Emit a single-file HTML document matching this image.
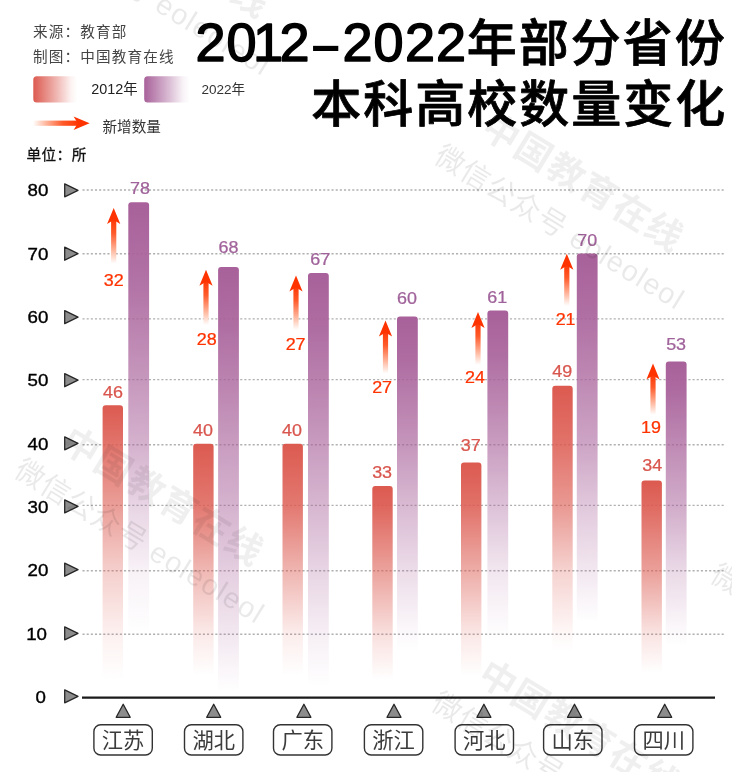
<!DOCTYPE html>
<html lang="zh-CN"><head><meta charset="utf-8"><title>2012-2022年部分省份本科高校数量变化</title>
<style>html,body{margin:0;padding:0;background:#fff}body{width:750px;height:772px;overflow:hidden}svg{display:block}text{font-family:'Liberation Sans','Noto Sans CJK SC',sans-serif}</style>
</head><body>
<svg width="750" height="772" viewBox="0 0 750 772">
<defs>
<linearGradient id="lr" x1="0" y1="0" x2="1" y2="0"><stop offset="0" stop-color="#dc5a50"/><stop offset="0.55" stop-color="#dc5a50" stop-opacity="0.42"/><stop offset="0.85" stop-color="#dc5a50" stop-opacity="0.08"/><stop offset="1" stop-color="#dc5a50" stop-opacity="0"/></linearGradient>
<linearGradient id="lp" x1="0" y1="0" x2="1" y2="0"><stop offset="0" stop-color="#a8619a"/><stop offset="0.55" stop-color="#a8619a" stop-opacity="0.42"/><stop offset="0.85" stop-color="#a8619a" stop-opacity="0.08"/><stop offset="1" stop-color="#a8619a" stop-opacity="0"/></linearGradient>
<linearGradient id="ga" x1="0" y1="0" x2="0" y2="1"><stop offset="0" stop-color="#ff3300"/><stop offset="0.35" stop-color="#ff5a2a"/><stop offset="0.75" stop-color="#ffbfa8"/><stop offset="1" stop-color="#ffffff"/></linearGradient>
<linearGradient id="gh" x1="1" y1="0" x2="0" y2="0"><stop offset="0" stop-color="#ff3300"/><stop offset="0.35" stop-color="#ff5a2a"/><stop offset="0.75" stop-color="#ffbfa8"/><stop offset="1" stop-color="#ffffff"/></linearGradient>
<clipPath id="wc"><rect x="0" y="0" width="732" height="772"/></clipPath>
</defs>
<rect width="750" height="772" fill="#fff"/>
<g fill="#444" font-size="14.6" letter-spacing="1.15">
<text x="33" y="36.5">来源：教育部</text>
<text x="33" y="62">制图：中国教育在线</text>
</g>
<rect x="33.3" y="76.2" width="44" height="26.2" rx="3.5" fill="url(#lr)"/>
<text x="91.2" y="94.2" font-size="14.4" fill="#222">2012年</text>
<rect x="144.2" y="76.2" width="45.5" height="26.2" rx="3.5" fill="url(#lp)"/>
<text x="201.5" y="93.6" font-size="13.5" fill="#333">2022年</text>
<rect x="33" y="120.6" width="46" height="5.2" fill="url(#gh)"/>
<path d="M89.6 123.2 L73.6 116.5 L77.8 123.2 L73.6 129.9 Z" fill="#ff3300"/>
<text x="102.5" y="131.5" font-size="14.6" fill="#333">新增数量</text>
<text x="26.5" y="160" font-size="14.6" letter-spacing="0.45" fill="#111" stroke="#111" stroke-width="0.3">单位：所</text>
<g fill="#000" font-weight="700">
<g font-size="54" font-weight="400" stroke="#000" stroke-width="1.5" stroke-linejoin="round">
<text y="61.3" x="195.5 226.5 253 279.5">2012</text>
<text y="61.3" x="342.5 373.5 405 436">2022</text>
</g>
<text x="311.5" y="61.8" font-size="51">–</text>
<text x="466.8" y="60.5" font-size="50" letter-spacing="2" font-weight="500" stroke="#000" stroke-width="0.8" stroke-linejoin="round">年部分省份</text>
<text x="311.3" y="122.3" font-size="50" letter-spacing="2" font-weight="500" stroke="#000" stroke-width="0.8" stroke-linejoin="round">本科高校数量变化</text>
</g>
<g font-size="16" fill="#000" stroke="#000" stroke-width="0.35" text-anchor="end">
<text transform="translate(45.8 702.6) scale(1.17 1)">0</text>
<text transform="translate(47.0 639.5) scale(1.17 1)">10</text>
<text transform="translate(48.4 576.0) scale(1.17 1)">20</text>
<text transform="translate(48.4 512.7) scale(1.17 1)">30</text>
<text transform="translate(48.4 449.5) scale(1.17 1)">40</text>
<text transform="translate(48.4 385.8) scale(1.17 1)">50</text>
<text transform="translate(48.4 322.8) scale(1.17 1)">60</text>
<text transform="translate(48.4 259.5) scale(1.17 1)">70</text>
<text transform="translate(48.4 196.1) scale(1.17 1)">80</text>
</g>
<g fill="#8c8c8c" stroke="#262626" stroke-width="1.3" stroke-linejoin="round">
<path d="M64.7 689.8 L78 696.3 L64.7 702.8 Z"/>
<path d="M64.7 626.8 L78 633.3 L64.7 639.8 Z"/>
<path d="M64.7 563.2 L78 569.7 L64.7 576.2 Z"/>
<path d="M64.7 499.9 L78 506.4 L64.7 512.9 Z"/>
<path d="M64.7 436.8 L78 443.3 L64.7 449.8 Z"/>
<path d="M64.7 373.7 L78 380.2 L64.7 386.7 Z"/>
<path d="M64.7 310.6 L78 317.1 L64.7 323.6 Z"/>
<path d="M64.7 247.2 L78 253.7 L64.7 260.2 Z"/>
<path d="M64.7 183.8 L78 190.3 L64.7 196.8 Z"/>
</g>
<g stroke="#b0b0b0" stroke-width="1.4" stroke-dasharray="2.1 2.05" fill="none">
<line x1="82.5" y1="634.3" x2="725.5" y2="634.3"/>
<line x1="82.5" y1="570.7" x2="725.5" y2="570.7"/>
<line x1="82.5" y1="505.4" x2="725.5" y2="505.4"/>
<line x1="82.5" y1="444.7" x2="725.5" y2="444.7"/>
<line x1="82.5" y1="379.6" x2="725.5" y2="379.6"/>
<line x1="82.5" y1="318.9" x2="725.5" y2="318.9"/>
<line x1="82.5" y1="253.7" x2="725.5" y2="253.7"/>
<line x1="82.5" y1="190.0" x2="725.5" y2="190.0"/>
</g>
<linearGradient id="br0" gradientUnits="userSpaceOnUse" x1="0" y1="405.3" x2="0" y2="697.0"><stop offset="0.0000" stop-color="#dc5a50" stop-opacity="1.000"/><stop offset="0.3432" stop-color="#dc5a50" stop-opacity="0.590"/><stop offset="0.5670" stop-color="#dc5a50" stop-opacity="0.290"/><stop offset="0.7851" stop-color="#dc5a50" stop-opacity="0.085"/><stop offset="0.9417" stop-color="#dc5a50" stop-opacity="0.000"/></linearGradient>
<linearGradient id="bp0" gradientUnits="userSpaceOnUse" x1="0" y1="202.3" x2="0" y2="697.0"><stop offset="0.0000" stop-color="#a8619a" stop-opacity="1.000"/><stop offset="0.1633" stop-color="#a8619a" stop-opacity="0.888"/><stop offset="0.3267" stop-color="#a8619a" stop-opacity="0.694"/><stop offset="0.4900" stop-color="#a8619a" stop-opacity="0.490"/><stop offset="0.6127" stop-color="#a8619a" stop-opacity="0.270"/><stop offset="0.7447" stop-color="#a8619a" stop-opacity="0.085"/><stop offset="0.8733" stop-color="#a8619a" stop-opacity="0.000"/></linearGradient>
<rect x="102.6" y="405.3" width="20.4" height="291.7" rx="3" fill="url(#br0)"/>
<rect x="128.3" y="202.3" width="20.8" height="494.7" rx="3" fill="url(#bp0)"/>
<linearGradient id="br1" gradientUnits="userSpaceOnUse" x1="0" y1="443.8" x2="0" y2="697.0"><stop offset="0.0000" stop-color="#dc5a50" stop-opacity="1.000"/><stop offset="0.2433" stop-color="#dc5a50" stop-opacity="0.816"/><stop offset="0.5012" stop-color="#dc5a50" stop-opacity="0.430"/><stop offset="0.7524" stop-color="#dc5a50" stop-opacity="0.125"/><stop offset="0.9171" stop-color="#dc5a50" stop-opacity="0.000"/></linearGradient>
<linearGradient id="bp1" gradientUnits="userSpaceOnUse" x1="0" y1="266.9" x2="0" y2="697.0"><stop offset="0.0000" stop-color="#a8619a" stop-opacity="1.000"/><stop offset="0.1378" stop-color="#a8619a" stop-opacity="0.917"/><stop offset="0.2756" stop-color="#a8619a" stop-opacity="0.774"/><stop offset="0.4134" stop-color="#a8619a" stop-opacity="0.624"/><stop offset="0.5545" stop-color="#a8619a" stop-opacity="0.484"/><stop offset="0.7063" stop-color="#a8619a" stop-opacity="0.310"/><stop offset="0.8542" stop-color="#a8619a" stop-opacity="0.150"/><stop offset="0.9884" stop-color="#a8619a" stop-opacity="0.000"/></linearGradient>
<rect x="193.2" y="443.8" width="20.4" height="253.2" rx="3" fill="url(#br1)"/>
<rect x="218.1" y="266.9" width="20.8" height="430.1" rx="3" fill="url(#bp1)"/>
<linearGradient id="br2" gradientUnits="userSpaceOnUse" x1="0" y1="443.8" x2="0" y2="697.0"><stop offset="0.0000" stop-color="#dc5a50" stop-opacity="1.000"/><stop offset="0.2433" stop-color="#dc5a50" stop-opacity="0.816"/><stop offset="0.5012" stop-color="#dc5a50" stop-opacity="0.450"/><stop offset="0.7524" stop-color="#dc5a50" stop-opacity="0.107"/><stop offset="0.9171" stop-color="#dc5a50" stop-opacity="0.000"/></linearGradient>
<linearGradient id="bp2" gradientUnits="userSpaceOnUse" x1="0" y1="273.0" x2="0" y2="697.0"><stop offset="0.0000" stop-color="#a8619a" stop-opacity="1.000"/><stop offset="0.1350" stop-color="#a8619a" stop-opacity="0.919"/><stop offset="0.2700" stop-color="#a8619a" stop-opacity="0.779"/><stop offset="0.4050" stop-color="#a8619a" stop-opacity="0.631"/><stop offset="0.5481" stop-color="#a8619a" stop-opacity="0.460"/><stop offset="0.7021" stop-color="#a8619a" stop-opacity="0.270"/><stop offset="0.8521" stop-color="#a8619a" stop-opacity="0.100"/><stop offset="0.9741" stop-color="#a8619a" stop-opacity="0.000"/></linearGradient>
<rect x="282.5" y="443.8" width="20.4" height="253.2" rx="3" fill="url(#br2)"/>
<rect x="308.0" y="273.0" width="20.8" height="424.0" rx="3" fill="url(#bp2)"/>
<linearGradient id="br3" gradientUnits="userSpaceOnUse" x1="0" y1="485.9" x2="0" y2="697.0"><stop offset="0.0000" stop-color="#dc5a50" stop-opacity="1.000"/><stop offset="0.0924" stop-color="#dc5a50" stop-opacity="0.930"/><stop offset="0.4017" stop-color="#dc5a50" stop-opacity="0.565"/><stop offset="0.7030" stop-color="#dc5a50" stop-opacity="0.190"/><stop offset="0.9195" stop-color="#dc5a50" stop-opacity="0.000"/></linearGradient>
<linearGradient id="bp3" gradientUnits="userSpaceOnUse" x1="0" y1="316.6" x2="0" y2="697.0"><stop offset="0.0000" stop-color="#a8619a" stop-opacity="1.000"/><stop offset="0.1123" stop-color="#a8619a" stop-opacity="0.927"/><stop offset="0.2245" stop-color="#a8619a" stop-opacity="0.800"/><stop offset="0.3368" stop-color="#a8619a" stop-opacity="0.666"/><stop offset="0.4963" stop-color="#a8619a" stop-opacity="0.440"/><stop offset="0.6680" stop-color="#a8619a" stop-opacity="0.220"/><stop offset="0.8352" stop-color="#a8619a" stop-opacity="0.035"/><stop offset="0.8817" stop-color="#a8619a" stop-opacity="0.000"/></linearGradient>
<rect x="372.3" y="485.9" width="20.4" height="211.1" rx="3" fill="url(#br3)"/>
<rect x="397.0" y="316.6" width="20.8" height="380.4" rx="3" fill="url(#bp3)"/>
<linearGradient id="br4" gradientUnits="userSpaceOnUse" x1="0" y1="462.6" x2="0" y2="697.0"><stop offset="0.0000" stop-color="#dc5a50" stop-opacity="1.000"/><stop offset="0.1826" stop-color="#dc5a50" stop-opacity="0.860"/><stop offset="0.4612" stop-color="#dc5a50" stop-opacity="0.500"/><stop offset="0.7325" stop-color="#dc5a50" stop-opacity="0.140"/><stop offset="0.9104" stop-color="#dc5a50" stop-opacity="0.000"/></linearGradient>
<linearGradient id="bp4" gradientUnits="userSpaceOnUse" x1="0" y1="310.6" x2="0" y2="697.0"><stop offset="0.0000" stop-color="#a8619a" stop-opacity="1.000"/><stop offset="0.1157" stop-color="#a8619a" stop-opacity="0.916"/><stop offset="0.2314" stop-color="#a8619a" stop-opacity="0.772"/><stop offset="0.3470" stop-color="#a8619a" stop-opacity="0.620"/><stop offset="0.5041" stop-color="#a8619a" stop-opacity="0.390"/><stop offset="0.6731" stop-color="#a8619a" stop-opacity="0.155"/><stop offset="0.8377" stop-color="#a8619a" stop-opacity="0.010"/><stop offset="0.8577" stop-color="#a8619a" stop-opacity="0.000"/></linearGradient>
<rect x="461.0" y="462.6" width="20.4" height="234.4" rx="3" fill="url(#br4)"/>
<rect x="487.4" y="310.6" width="20.8" height="386.4" rx="3" fill="url(#bp4)"/>
<linearGradient id="br5" gradientUnits="userSpaceOnUse" x1="0" y1="385.8" x2="0" y2="697.0"><stop offset="-0.0010" stop-color="#dc5a50" stop-opacity="1.000"/><stop offset="0.1893" stop-color="#dc5a50" stop-opacity="0.850"/><stop offset="0.3843" stop-color="#dc5a50" stop-opacity="0.620"/><stop offset="0.5942" stop-color="#dc5a50" stop-opacity="0.270"/><stop offset="0.7985" stop-color="#dc5a50" stop-opacity="0.040"/><stop offset="0.8554" stop-color="#dc5a50" stop-opacity="0.000"/></linearGradient>
<linearGradient id="bp5" gradientUnits="userSpaceOnUse" x1="0" y1="253.5" x2="0" y2="697.0"><stop offset="0.0000" stop-color="#a8619a" stop-opacity="1.000"/><stop offset="0.1437" stop-color="#a8619a" stop-opacity="0.905"/><stop offset="0.2874" stop-color="#a8619a" stop-opacity="0.742"/><stop offset="0.4311" stop-color="#a8619a" stop-opacity="0.570"/><stop offset="0.5680" stop-color="#a8619a" stop-opacity="0.350"/><stop offset="0.7152" stop-color="#a8619a" stop-opacity="0.150"/><stop offset="0.8309" stop-color="#a8619a" stop-opacity="0.000"/></linearGradient>
<rect x="552.3" y="385.8" width="20.4" height="311.2" rx="3" fill="url(#br5)"/>
<rect x="576.8" y="253.5" width="20.8" height="443.5" rx="3" fill="url(#bp5)"/>
<linearGradient id="br6" gradientUnits="userSpaceOnUse" x1="0" y1="480.4" x2="0" y2="697.0"><stop offset="0.0000" stop-color="#dc5a50" stop-opacity="1.000"/><stop offset="0.1154" stop-color="#dc5a50" stop-opacity="0.904"/><stop offset="0.4169" stop-color="#dc5a50" stop-opacity="0.580"/><stop offset="0.7105" stop-color="#dc5a50" stop-opacity="0.163"/><stop offset="0.8892" stop-color="#dc5a50" stop-opacity="0.000"/></linearGradient>
<linearGradient id="bp6" gradientUnits="userSpaceOnUse" x1="0" y1="361.5" x2="0" y2="697.0"><stop offset="0.0000" stop-color="#a8619a" stop-opacity="1.000"/><stop offset="0.0827" stop-color="#a8619a" stop-opacity="0.942"/><stop offset="0.1653" stop-color="#a8619a" stop-opacity="0.842"/><stop offset="0.2480" stop-color="#a8619a" stop-opacity="0.736"/><stop offset="0.4289" stop-color="#a8619a" stop-opacity="0.525"/><stop offset="0.6235" stop-color="#a8619a" stop-opacity="0.240"/><stop offset="0.8131" stop-color="#a8619a" stop-opacity="0.027"/><stop offset="0.8480" stop-color="#a8619a" stop-opacity="0.000"/></linearGradient>
<rect x="641.5" y="480.4" width="20.4" height="216.6" rx="3" fill="url(#br6)"/>
<rect x="665.8" y="361.5" width="20.8" height="335.5" rx="3" fill="url(#bp6)"/>
<line x1="82" y1="697.6" x2="715" y2="697.6" stroke="#1a1a1a" stroke-width="2.2"/>
<g font-size="16" text-anchor="middle" stroke-width="0.25">
<text transform="translate(113.0 397.8) scale(1.12 1)" fill="#d9564e" stroke="#d9564e">46</text>
<text transform="translate(139.9 194.4) scale(1.12 1)" fill="#a0629a" stroke="#a0629a">78</text>
<text transform="translate(113.7 285.6) scale(1.12 1)" fill="#ff3300" stroke="#ff3300">32</text>
<text transform="translate(202.9 436.3) scale(1.12 1)" fill="#d9564e" stroke="#d9564e">40</text>
<text transform="translate(228.4 252.6) scale(1.12 1)" fill="#a0629a" stroke="#a0629a">68</text>
<text transform="translate(206.8 345.0) scale(1.12 1)" fill="#ff3300" stroke="#ff3300">28</text>
<text transform="translate(292.0 436.3) scale(1.12 1)" fill="#d9564e" stroke="#d9564e">40</text>
<text transform="translate(320.3 265.2) scale(1.12 1)" fill="#a0629a" stroke="#a0629a">67</text>
<text transform="translate(295.6 350.1) scale(1.12 1)" fill="#ff3300" stroke="#ff3300">27</text>
<text transform="translate(382.1 478.0) scale(1.12 1)" fill="#d9564e" stroke="#d9564e">33</text>
<text transform="translate(407.0 304.0) scale(1.12 1)" fill="#a0629a" stroke="#a0629a">60</text>
<text transform="translate(382.1 392.6) scale(1.12 1)" fill="#ff3300" stroke="#ff3300">27</text>
<text transform="translate(470.8 450.9) scale(1.12 1)" fill="#d9564e" stroke="#d9564e">37</text>
<text transform="translate(497.3 302.9) scale(1.12 1)" fill="#a0629a" stroke="#a0629a">61</text>
<text transform="translate(475.0 383.4) scale(1.12 1)" fill="#ff3300" stroke="#ff3300">24</text>
<text transform="translate(562.2 377.0) scale(1.12 1)" fill="#d9564e" stroke="#d9564e">49</text>
<text transform="translate(587.2 246.3) scale(1.12 1)" fill="#a0629a" stroke="#a0629a">70</text>
<text transform="translate(565.6 324.8) scale(1.12 1)" fill="#ff3300" stroke="#ff3300">21</text>
<text transform="translate(652.2 471.3) scale(1.12 1)" fill="#d9564e" stroke="#d9564e">34</text>
<text transform="translate(676.1 350.2) scale(1.12 1)" fill="#a0629a" stroke="#a0629a">53</text>
<text transform="translate(651.0 433.4) scale(1.12 1)" fill="#ff3300" stroke="#ff3300">19</text>
</g>
<rect x="111.1" y="217.0" width="5.2" height="46.6" fill="url(#ga)"/>
<path d="M113.7 208.0 L120.3 224.0 L113.7 220.0 L107.1 224.0 Z" fill="#ff3300"/>
<rect x="203.4" y="278.7" width="5.2" height="46.3" fill="url(#ga)"/>
<path d="M206.0 269.7 L212.6 285.7 L206.0 281.7 L199.4 285.7 Z" fill="#ff3300"/>
<rect x="293.4" y="284.5" width="5.2" height="45.5" fill="url(#ga)"/>
<path d="M296.0 275.5 L302.6 291.5 L296.0 287.5 L289.4 291.5 Z" fill="#ff3300"/>
<rect x="382.9" y="329.5" width="5.2" height="44.1" fill="url(#ga)"/>
<path d="M385.5 320.5 L392.1 336.5 L385.5 332.5 L378.9 336.5 Z" fill="#ff3300"/>
<rect x="475.4" y="320.9" width="5.2" height="43.9" fill="url(#ga)"/>
<path d="M478.0 311.9 L484.6 327.9 L478.0 323.9 L471.4 327.9 Z" fill="#ff3300"/>
<rect x="564.2" y="262.8" width="5.2" height="43.1" fill="url(#ga)"/>
<path d="M566.8 253.8 L573.4 269.8 L566.8 265.8 L560.2 269.8 Z" fill="#ff3300"/>
<rect x="650.4" y="372.4" width="5.2" height="42.4" fill="url(#ga)"/>
<path d="M653.0 363.4 L659.6 379.4 L653.0 375.4 L646.4 379.4 Z" fill="#ff3300"/>
<g fill="#8c8c8c" stroke="#262626" stroke-width="1.3" stroke-linejoin="round">
<path d="M123.2 704.2 L130.2 717.3 L116.2 717.3 Z"/>
<path d="M213.7 704.2 L220.7 717.3 L206.7 717.3 Z"/>
<path d="M303.9 704.2 L310.9 717.3 L296.9 717.3 Z"/>
<path d="M394.0 704.2 L401.0 717.3 L387.0 717.3 Z"/>
<path d="M483.9 704.2 L490.9 717.3 L476.9 717.3 Z"/>
<path d="M574.5 704.2 L581.5 717.3 L567.5 717.3 Z"/>
<path d="M664.7 704.2 L671.7 717.3 L657.7 717.3 Z"/>
</g>
<g fill="#fff" stroke="#333" stroke-width="1.4">
<rect x="93.9" y="724.8" width="58.4" height="30.2" rx="6.8"/>
<rect x="184.5" y="724.8" width="58.4" height="30.2" rx="6.8"/>
<rect x="273.5" y="724.8" width="58.4" height="30.2" rx="6.8"/>
<rect x="364.4" y="724.8" width="58.4" height="30.2" rx="6.8"/>
<rect x="455.1" y="724.8" width="58.4" height="30.2" rx="6.8"/>
<rect x="543.6" y="724.8" width="58.4" height="30.2" rx="6.8"/>
<rect x="634.5" y="724.8" width="58.4" height="30.2" rx="6.8"/>
</g>
<g font-size="21.3" fill="#3c3c3c" text-anchor="middle">
<text x="123.1" y="747.8">江苏</text>
<text x="213.7" y="747.8">湖北</text>
<text x="302.7" y="747.8">广东</text>
<text x="393.6" y="747.8">浙江</text>
<text x="484.3" y="747.8">河北</text>
<text x="572.8" y="747.8">山东</text>
<text x="663.7" y="747.8">四川</text>
</g>
<g clip-path="url(#wc)" fill="#000">
<g transform="translate(444.0 154.0) rotate(31.5)">
<text x="-6" y="12" font-size="29" font-weight="400" letter-spacing="0.8" fill-opacity="0.085">微信公众号 <tspan letter-spacing="1.4">eoleoleol</tspan></text>
<text x="19" y="-35.5" font-size="36.5" font-weight="700" letter-spacing="1.7" fill-opacity="0.062">中国教育在线</text>
</g>
<g transform="translate(30.0 -80.0) rotate(31.5)">
<text x="-6" y="12" font-size="29" font-weight="400" letter-spacing="0.8" fill-opacity="0.085">微信公众号 <tspan letter-spacing="1.4">eoleoleol</tspan></text>
<text x="19" y="-35.5" font-size="36.5" font-weight="700" letter-spacing="1.7" fill-opacity="0.062">中国教育在线</text>
</g>
<g transform="translate(24.0 468.0) rotate(31.5)">
<text x="-6" y="12" font-size="29" font-weight="400" letter-spacing="0.8" fill-opacity="0.085">微信公众号 <tspan letter-spacing="1.4">eoleoleol</tspan></text>
<text x="19" y="-35.5" font-size="36.5" font-weight="700" letter-spacing="1.7" fill-opacity="0.062">中国教育在线</text>
</g>
<g transform="translate(441.0 701.0) rotate(31.5)">
<text x="-6" y="12" font-size="29" font-weight="400" letter-spacing="0.8" fill-opacity="0.085">微信公众号 <tspan letter-spacing="1.4">eoleoleol</tspan></text>
<text x="19" y="-35.5" font-size="36.5" font-weight="700" letter-spacing="1.7" fill-opacity="0.062">中国教育在线</text>
</g>
<g transform="translate(720.0 573.0) rotate(31.5)">
<text x="-6" y="12" font-size="29" font-weight="400" letter-spacing="0.8" fill-opacity="0.085">微信公众号 <tspan letter-spacing="1.4">eoleoleol</tspan></text>
<text x="19" y="-35.5" font-size="36.5" font-weight="700" letter-spacing="1.7" fill-opacity="0.062">中国教育在线</text>
</g>
</g>
</svg>
</body></html>
